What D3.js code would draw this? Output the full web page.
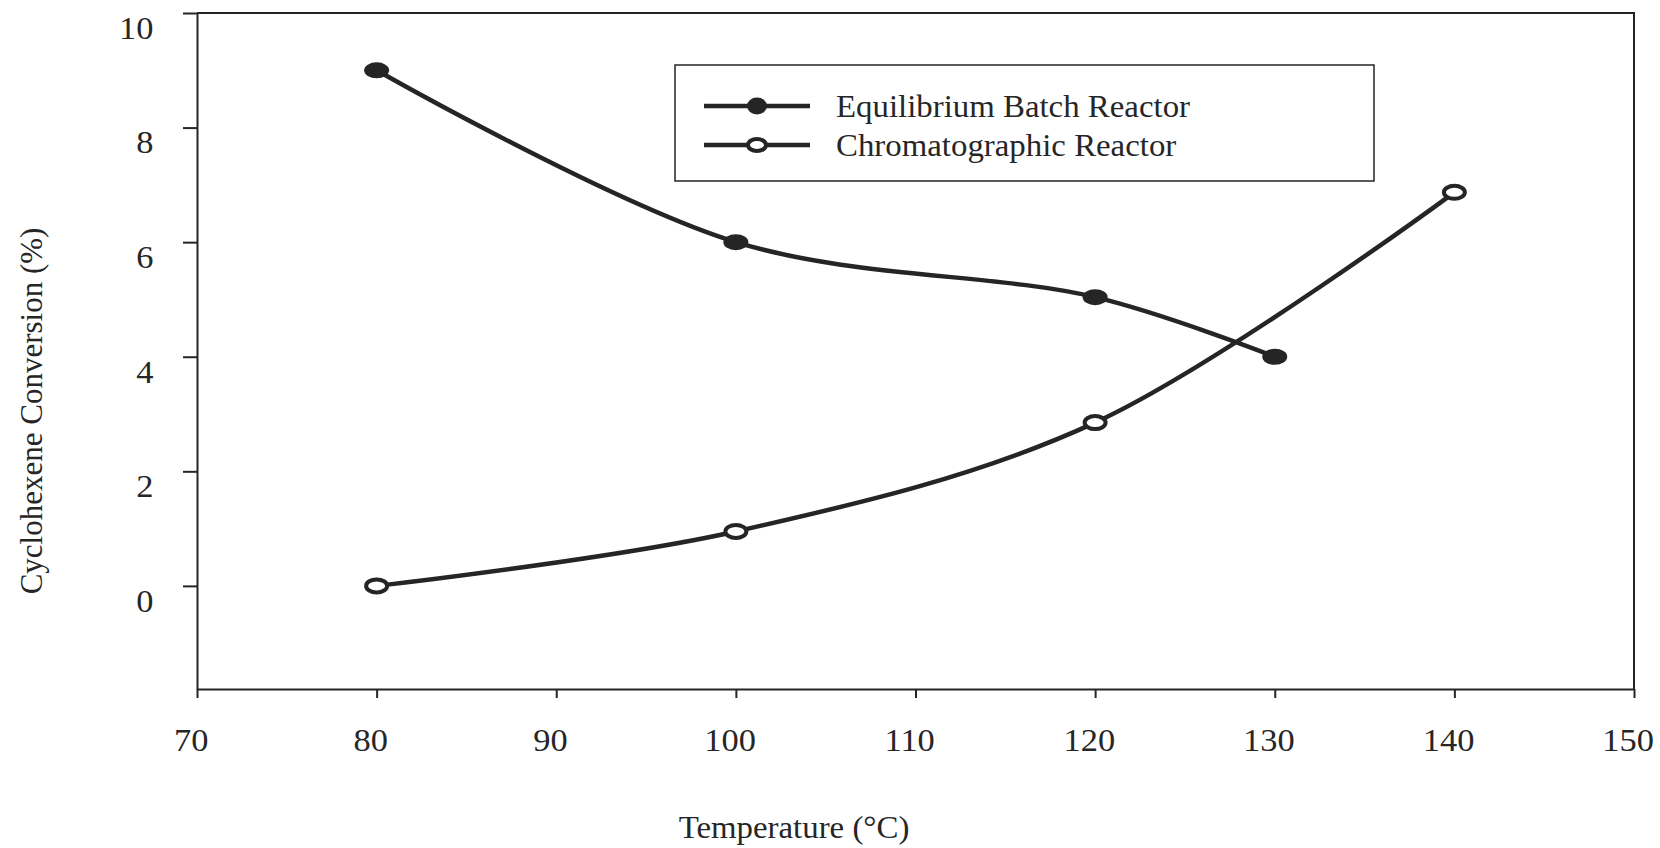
<!DOCTYPE html>
<html>
<head>
<meta charset="utf-8">
<script src="https://cdnjs.cloudflare.com/ajax/libs/d3/7.8.5/d3.min.js"></script>
<style>
  body { margin: 0; background: #fff; }
  svg text { font-family: "Liberation Serif", "Times New Roman", serif; fill: #262626; }
</style>
</head>
<body>
<svg id="chart" width="1660" height="848"></svg>
<script>
// data
var batchTemp = [80, 100, 120, 130];
var batchConv = [9.0, 6.0, 5.04, 4.0];
var chromTemp = [80, 100, 120, 140];
var chromConv = [0, 0.95, 2.85, 6.87];

var xTicks = [70, 80, 90, 100, 110, 120, 130, 140, 150];
var yTicks = [0, 2, 4, 6, 8, 10];

var seriesNames = ["Equilibrium Batch Reactor", "Chromatographic Reactor"];

var ink = "#252525";
var fontSize = 31;
var stretch = 1.06;   // the scanned text is a bit wide

var svg = d3.select("#chart");

var x = d3.scaleLinear().domain([70, 150]).range([197, 1634]);
var y = d3.scaleLinear().domain([-1.8, 10]).range([689, 13]);

// frame (top + right sides)
svg.append("path")
  .attr("d", "M" + x(70) + "," + y(10) + "H" + x(150) + "V" + y(-1.8))
  .attr("fill", "none")
  .attr("stroke", ink)
  .attr("stroke-width", 2);

// x axis
var xAxis = svg.append("g")
  .attr("transform", "translate(0," + y(-1.8) + ")")
  .call(d3.axisBottom(x).tickValues(xTicks).tickSizeInner(9).tickSizeOuter(0).tickPadding(30));

// y axis
var yAxis = svg.append("g")
  .attr("transform", "translate(" + x(70) + ",0)")
  .call(d3.axisLeft(y).tickValues(yTicks).tickSizeInner(14).tickSizeOuter(0).tickPadding(27));

[xAxis, yAxis].forEach(function(g) {
  g.select(".domain").attr("stroke", ink).attr("stroke-width", 2);
  g.selectAll(".tick line").attr("stroke", ink).attr("stroke-width", 2);
  g.selectAll(".tick text")
    .attr("font-family", "Liberation Serif, Times New Roman, serif")
    .attr("font-size", 32.5)
    .attr("fill", "#262626")
    .attr("transform", "scale(" + stretch + ",1)");
});
xAxis.selectAll(".tick text").attr("dx", -6);
yAxis.selectAll(".tick text").attr("y", 15);

// axis titles
svg.append("text")
  .attr("transform", "translate(794,838) scale(" + stretch + ",1)")
  .attr("text-anchor", "middle")
  .attr("font-size", fontSize)
  .text("Temperature (°C)");

svg.append("text")
  .attr("transform", "translate(42,411) rotate(-90)")
  .attr("text-anchor", "middle")
  .attr("font-size", fontSize)
  .text("Cyclohexene Conversion (%)");

var line = d3.line()
  .x(function(d) { return x(d[0]); })
  .y(function(d) { return y(d[1]); })
  .curve(d3.curveCatmullRom.alpha(0.5));

var series = [
  { pts: d3.zip(batchTemp, batchConv), filled: true },
  { pts: d3.zip(chromTemp, chromConv), filled: false }
];

series.forEach(function(s) {
  svg.append("path")
    .datum(s.pts)
    .attr("d", line)
    .attr("fill", "none")
    .attr("stroke", ink)
    .attr("stroke-width", 4.5);

  svg.selectAll(null)
    .data(s.pts)
    .enter().append("ellipse")
    .attr("cx", function(d) { return x(d[0]); })
    .attr("cy", function(d) { return y(d[1]); })
    .attr("rx", s.filled ? 12.5 : 10.5)
    .attr("ry", s.filled ? 8 : 6.5)
    .attr("fill", s.filled ? ink : "#fff")
    .attr("stroke", ink)
    .attr("stroke-width", s.filled ? 0 : 4);
});

// legend
var legend = svg.append("g");
legend.append("rect")
  .attr("x", 675).attr("y", 65)
  .attr("width", 699).attr("height", 116)
  .attr("fill", "#fff")
  .attr("stroke", ink)
  .attr("stroke-width", 1.5);

seriesNames.forEach(function(name, i) {
  var ly = 106 + i * 39;
  legend.append("line")
    .attr("x1", 704).attr("x2", 810)
    .attr("y1", ly).attr("y2", ly)
    .attr("stroke", ink)
    .attr("stroke-width", 4.5);
  legend.append("ellipse")
    .attr("cx", 757).attr("cy", ly)
    .attr("rx", i == 0 ? 10 : 9)
    .attr("ry", i == 0 ? 8.5 : 6)
    .attr("fill", i == 0 ? ink : "#fff")
    .attr("stroke", ink)
    .attr("stroke-width", i == 0 ? 0 : 4);
  legend.append("text")
    .attr("transform", "translate(836," + (ly + 11) + ") scale(" + stretch + ",1)")
    .attr("font-size", fontSize)
    .text(name);
});
</script>
</body>
</html>
